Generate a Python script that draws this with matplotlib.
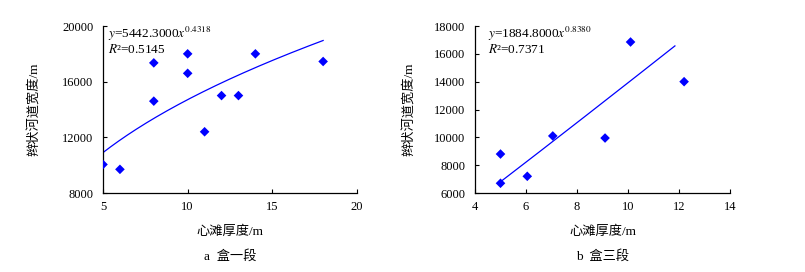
import numpy as np
import matplotlib
matplotlib.use("Agg")
import matplotlib.pyplot as plt

plt.rcParams['font.family'] = ['Liberation Serif', 'Noto Sans CJK SC']
plt.rcParams['mathtext.fontset'] = 'stix'

# Panel a: 盒一段
a_x = [5, 6, 8, 8, 10, 10, 11, 12, 13, 14, 18]
a_y = [10050, 9700, 17350, 14600, 18000, 16600, 12400, 15000, 15000, 18000, 17450]
a_coef, a_exp = 5442.3, 0.4318
a_range = (5, 18)
a_eq = "$y$=5442.3000$x^{0.4318}$"
a_r2 = "$R$²=0.5145"
a_xticks = [5, 10, 15, 20]
a_yticks = [8000, 12000, 16000, 20000]

# Panel b: 盒三段
b_x = [5.0, 5.0, 6.05, 7.05, 9.1, 10.1, 12.2]
b_y = [8800, 6700, 7200, 10100, 9950, 16850, 14000]
b_coef, b_exp = 1293.0, 1.032   # drawn trend line as shown
b_range = (5, 11.84)
b_eq = "$y$=1884.8000$x^{0.8380}$"
b_r2 = "$R$²=0.7371"
b_xticks = [4, 6, 8, 10, 12, 14]
b_yticks = [6000, 8000, 10000, 12000, 14000, 16000, 18000]

ylabel = "辫状河道宽度/m"
xlabel = "心滩厚度/m"
captions = ["a  盒一段", "b  盒三段"]

W, H = 805, 272
fig = plt.figure(figsize=(W / 100, H / 100), dpi=100)

def px_axes(l, t, r, b):
    return fig.add_axes([l / W, 1 - b / H, (r - l) / W, (b - t) / H])

ax1 = px_axes(103, 26, 357, 193)
ax2 = px_axes(475, 26, 730, 193)

panels = [
    (ax1, a_x, a_y, a_coef, a_exp, a_range, a_eq, a_r2, a_xticks, a_yticks, -0.244, 108),
    (ax2, b_x, b_y, b_coef, b_exp, b_range, b_eq, b_r2, b_xticks, b_yticks, -0.231, 488),
]

for i, (ax, xs, ys, c, e, rng, eq, r2, xt, yt, ylx, tx) in enumerate(panels):
    xx = np.linspace(rng[0], rng[1], 200)
    ax.plot(xx, c * xx ** e, color='#0000FF', lw=0.9, zorder=2)
    ax.scatter(xs, ys, marker='D', s=24, color='#0000FF', edgecolors='none', zorder=3)
    ax.set_xlim(xt[0], xt[-1])
    ax.set_ylim(yt[0], yt[-1])
    ax.set_xticks(xt)
    ax.set_yticks(yt)
    for s in ['top', 'right']:
        ax.spines[s].set_visible(False)
    for s in ['left', 'bottom']:
        ax.spines[s].set_linewidth(0.9)
    ax.tick_params(axis='x', direction='in', length=3, width=0.8, pad=6, labelsize=9)
    ax.tick_params(axis='y', direction='in', length=3, width=0.8, pad=7, labelsize=9)
    ax.set_ylabel(ylabel, fontsize=9.5)
    ax.yaxis.set_label_coords(ylx, 0.5)
    fig.text(tx / W, 1 - 38 / H, eq, fontsize=9.5, va='baseline', ha='left')
    fig.text(tx / W, 1 - 53 / H, r2, fontsize=9.5, va='baseline', ha='left')
    bb = ax.get_position()
    cx = (bb.x0 + bb.x1) / 2
    fig.text(cx, 1 - 232 / H, xlabel, ha='center', va='center', fontsize=9.5)
    fig.text(cx, 1 - 256 / H, captions[i], ha='center', va='center', fontsize=9.5)

fig.savefig("out.png", dpi=100)
